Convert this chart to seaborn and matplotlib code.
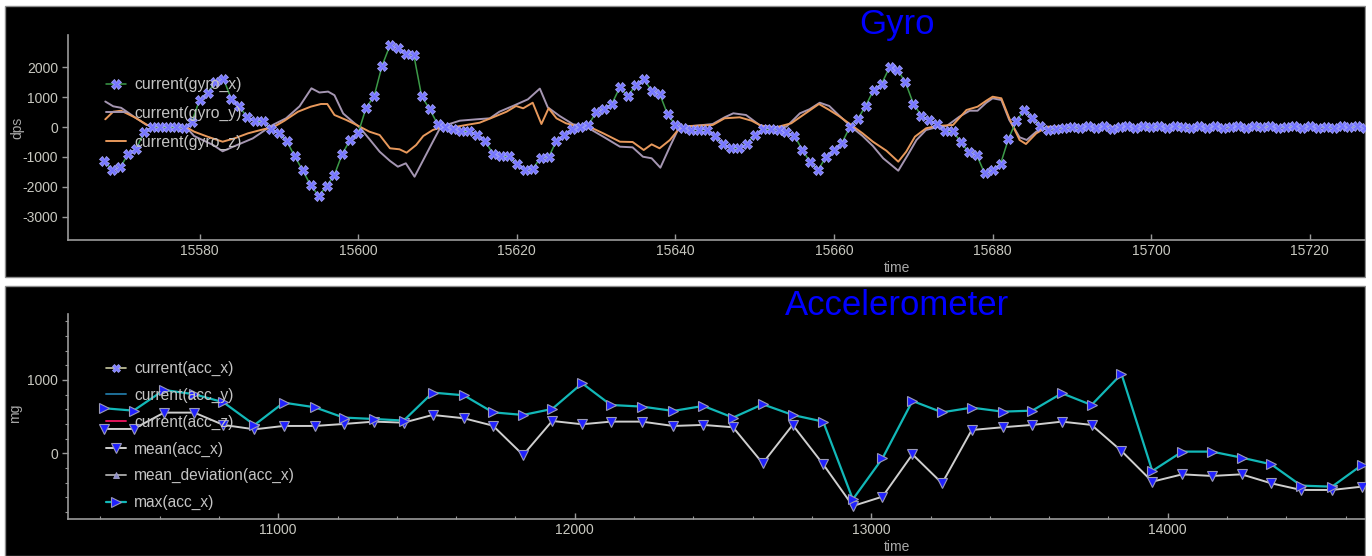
import numpy as np
import pandas as pd
import matplotlib
matplotlib.use("Agg")
import matplotlib.pyplot as plt
import seaborn as sns
from matplotlib.lines import Line2D
from matplotlib.patches import Rectangle
from matplotlib.ticker import FixedLocator

# ---------------- data ----------------
gyro_time = np.arange(15568, 15729)
gyro_x = [
    -1140, -1440, -1340, -900, -720, -170, 0, 0, -10, -10,
    -30, 160, 910, 1150, 1490, 1610, 930, 690, 320, 190,
    190, -60, -200, -480, -980, -1450, -1940, -2290, -1980, -1590,
    -890, -420, -200, 650, 1020, 2040, 2720, 2650, 2430, 2410,
    1020, 600, 100, 0, -70, -140, -140, -260, -480, -890,
    -980, -980, -1250, -1440, -1390, -1030, -1010, -460, -280, -60,
    -10, 60, 490, 610, 780, 1330, 1020, 1410, 1600, 1210,
    1110, 430, 60, -30, -90, -90, -90, -310, -570, -700,
    -700, -560, -260, -60, -70, -90, -180, -290, -760, -1180,
    -1420, -1000, -760, -530, 0, 270, 710, 1240, 1440, 1990,
    1910, 1490, 780, 380, 220, 100, -120, -140, -510, -840,
    -940, -1550, -1420, -1230, -390, 210, 560, 300, 40, -90,
    -60, -40, 10, -30, 20, -20, 30, -50, 10, 40,
    -30, 20, -10, 30, -40, 20, 10, -20, 30, -30,
    20, -40, 10, 30, -20, 20, -10, 40, -30, 10,
    20, -30, 30, -20, 10, -40, 20, -10, 30, -30,
    10,
]

gyro_y_time = [
    15568.1, 15569.1, 15570.1, 15571.8, 15573.3, 15575.0, 15578.3, 15579.3, 15581.7, 15582.9,
    15584.2, 15586.7, 15589.2, 15590.9, 15592.6, 15594.1, 15595.1, 15596.2, 15597.0, 15598.1,
    15599.3, 15600.2, 15601.4, 15602.7, 15604.0, 15605.0, 15606.0, 15607.1, 15608.2, 15609.3,
    15610.3, 15611.1, 15612.8, 15614.9, 15616.6, 15617.8, 15619.5, 15621.4, 15622.9, 15623.9,
    15625.4, 15627.1, 15628.6, 15630.9, 15633.0, 15634.6, 15635.9, 15637.0, 15638.1, 15639.3,
    15640.3, 15641.2, 15643.5, 15644.7, 15646.2, 15647.3, 15648.9, 15650.6, 15652.3, 15654.0,
    15655.7, 15656.9, 15658.2, 15659.4, 15660.7, 15662.4, 15663.6, 15664.9, 15666.2, 15668.1,
    15669.3, 15670.4, 15671.6, 15672.9, 15674.2, 15675.8, 15677.1, 15678.1, 15679.2, 15680.0,
    15681.1, 15682.1, 15683.4, 15684.3, 15685.5, 15686.8, 15700.0, 15730.0,
]
gyro_y = [
    850, 690, 640, 330, 67, 0, 0, -300, -600, -810,
    -660, -380, 67, 290, 690, 1290, 1150, 1180, 1060, 450,
    177, -20, -400, -823, -1130, -1323, -1210, -1657, -1100, -543,
    -43, 67, 210, 256, 290, 510, 700, 923, 1280, 656,
    367, 90, 30, -323, -656, -678, -990, -1043, -1356, -656,
    -100, 10, 67, 100, 323, 457, 400, 67, -43, 10,
    457, 590, 810, 700, 367, -43, -300, -633, -1043, -1457,
    -933, -433, -100, -10, 33, 343, 543, 543, 810, 957,
    900, 233, -343, -433, -155, 0, 10, 0,
]

gyro_z_time = [
    15568.1, 15569.1, 15570.1, 15571.8, 15573.4, 15575.0, 15578.3, 15579.3, 15581.0, 15582.9,
    15584.4, 15586.1, 15587.7, 15589.4, 15590.7, 15592.4, 15594.0, 15595.3, 15596.1, 15597.0,
    15598.5, 15599.8, 15601.4, 15602.7, 15604.0, 15605.2, 15606.1, 15607.3, 15608.2, 15609.4,
    15610.5, 15612.2, 15613.6, 15615.3, 15617.0, 15618.7, 15619.9, 15620.8, 15622.0, 15623.1,
    15624.0, 15625.0, 15626.2, 15627.9, 15629.2, 15630.9, 15633.0, 15634.6, 15636.0, 15637.0,
    15638.0, 15639.3, 15640.5, 15641.8, 15644.7, 15646.2, 15648.1, 15649.6, 15650.8, 15652.7,
    15654.6, 15656.1, 15658.1, 15659.4, 15660.7, 15662.4, 15663.6, 15664.9, 15666.6, 15668.1,
    15669.1, 15670.2, 15671.6, 15672.9, 15675.0, 15676.7, 15678.1, 15679.2, 15680.0, 15681.1,
    15682.1, 15683.4, 15684.2, 15685.5, 15686.9, 15700.0, 15730.0,
]
gyro_z = [
    256, 510, 543, 323, 67, 0, 0, -155, -323, -490,
    -378, -211, -100, 10, 210, 510, 677, 767, 767, 400,
    233, 67, -155, -267, -710, -743, -856, -600, -300, -100,
    -10, 0, 67, 143, 323, 510, 700, 623, 810, 100,
    623, 290, 123, 10, 0, -211, -490, -500, -767, -578,
    -710, -433, -43, 33, 67, 290, 323, 210, 43, -10,
    123, 400, 767, 567, 350, 22, -211, -490, -790, -1156,
    -823, -323, -43, 33, 67, 567, 677, 877, 1010, 957,
    290, -433, -567, -211, 10, 0, 0,
]

acc_time = [
    10414, 10512, 10615, 10717, 10815, 10920, 11018, 11123, 11221, 11323,
    11423, 11521, 11626, 11724, 11826, 11924, 12025, 12122, 12227, 12332,
    12434, 12534, 12634, 12735, 12838, 12938, 13038, 13139, 13239, 13339,
    13443, 13543, 13643, 13743, 13844, 13948, 14049, 14149, 14249, 14349,
    14450, 14554, 14655,
]
acc_max = [
    614, 582, 864, 805, 696, 387, 691, 628, 487, 468,
    446, 828, 791, 559, 523, 605, 955, 659, 637, 578,
    646, 487, 669, 523, 432, -628, -68, 714, 559, 623,
    568, 582, 819, 659, 1082, -241, 23, 23, -59, -150,
    -441, -455, -159,
]
acc_mean = [
    332, 332, 555, 555, 387, 327, 373, 373, 400, 432,
    418, 523, 478, 377, -23, 441, 396, 432, 432, 373,
    387, 355, -136, 387, -150, -719, -591, -14, -409, 318,
    355, 387, 432, 387, 32, -387, -287, -309, -287, -409,
    -500, -500, -455,
]

gyro_labels = ["current(gyro_x)", "current(gyro_y)", "current(gyro_z)"]
acc_labels = ["current(acc_x)", "current(acc_y)", "current(acc_z)",
              "mean(acc_x)", "mean_deviation(acc_x)", "max(acc_x)"]

gyro_xticks = [15580, 15600, 15620, 15640, 15660, 15680, 15700, 15720]
gyro_yticks = [-3000, -2000, -1000, 0, 1000, 2000]
acc_xticks = [11000, 12000, 13000, 14000]
acc_xminor = [10400, 10600, 10800, 11200, 11400, 11600, 11800, 12200, 12400,
              12600, 12800, 13200, 13400, 13600, 13800, 14200, 14400, 14600]
acc_yticks = [0, 1000]
acc_yminor = [-800, -600, -400, -200, 200, 400, 600, 800, 1200, 1400, 1600, 1800]

# ---------------- style ----------------
sns.set_theme(style="ticks")
plt.rcParams['font.family'] = ['Liberation Sans', 'DejaVu Sans']
plt.rcParams['axes.unicode_minus'] = False

W, H = 1372, 556
fig = plt.figure(figsize=(W / 100, H / 100), dpi=100, facecolor='white')


def fx(px):
    return px / W


def fy(py):
    return 1 - py / H


# black panels
for (y0, y1) in [(6, 277), (286, 556)]:
    fig.add_artist(Rectangle((fx(5), fy(y1)), fx(1365 - 5), (y1 - y0) / H,
                             transform=fig.transFigure, facecolor='black',
                             edgecolor='#8c8c8c', lw=1, zorder=-5))

AX_W = 1658  # plot area continues beyond the visible crop
SPINE = '#9a9a9a'
TICKLBL = '#c8c8c0'
LBL = '#a8a8a8'

ax1 = fig.add_axes([fx(68), fy(240), AX_W / W, (240 - 35) / H])
ax2 = fig.add_axes([fx(68), fy(518.7), AX_W / W, (518.7 - 314) / H])

for ax in (ax1, ax2):
    ax.set_facecolor('none')
    for s in ('top', 'right'):
        ax.spines[s].set_visible(False)
    for s in ('left', 'bottom'):
        ax.spines[s].set_color(SPINE)
        ax.spines[s].set_linewidth(1.2)
    ax.tick_params(axis='both', which='major', colors=SPINE, labelcolor=TICKLBL,
                   labelsize=10, length=4, width=1, pad=3)
    ax.tick_params(axis='x', which='both', direction='in')
    ax.tick_params(axis='y', which='both', direction='out')
    ax.tick_params(axis='both', which='minor', colors=SPINE, length=2.5, width=0.8)
    ax.grid(False)

# ---------------- Gyro ----------------
sns.lineplot(x=gyro_y_time, y=gyro_y, ax=ax1, color='#a596b2', lw=1.4,
             estimator=None, sort=False, legend=False)
sns.lineplot(x=gyro_z_time, y=gyro_z, ax=ax1, color='#e8995c', lw=1.4,
             estimator=None, sort=False, legend=False)
sns.lineplot(x=gyro_time, y=gyro_x, ax=ax1, color='#3c9a48', lw=1.1,
             marker='X', markersize=6.5, markerfacecolor='#7676ff',
             markeredgecolor='#a4a4ff', markeredgewidth=0.6,
             estimator=None, sort=False, legend=False)

ax1.set_xlim(15563.4, 15563.4 + AX_W / 7.93)
ax1.set_ylim(-3767, 3067)
ax1.xaxis.set_major_locator(FixedLocator(gyro_xticks))
ax1.yaxis.set_major_locator(FixedLocator(gyro_yticks))
ax1.set_xlabel('time', color=LBL, fontsize=10, labelpad=2)
ax1.set_ylabel('')

g_handles = [
    Line2D([], [], color='#3c9a48', lw=1.1, marker='X', ms=6.5,
           mfc='#7676ff', mec='#a4a4ff', mew=0.6),
    Line2D([], [], color='#a596b2', lw=1.4),
    Line2D([], [], color='#e8995c', lw=1.4),
]
ax1.legend(g_handles, gyro_labels, loc='upper left',
           bbox_to_anchor=(fx(106), fy(77)), bbox_transform=fig.transFigure,
           frameon=False, fontsize=11.3, labelcolor='#c4c4c4',
           handlelength=1.3, handletextpad=0.5, labelspacing=0.88,
           borderpad=0, borderaxespad=0, numpoints=1)

# ---------------- Accelerometer ----------------
sns.lineplot(x=acc_time, y=acc_mean, ax=ax2, color='#cfcfcf', lw=1.4,
             marker='v', markersize=7.5, markerfacecolor='#2020ff',
             markeredgecolor='#9a9ab8', markeredgewidth=0.8,
             estimator=None, sort=False, legend=False)
sns.lineplot(x=acc_time, y=acc_max, ax=ax2, color='#12b8b8', lw=1.6,
             marker='>', markersize=7.5, markerfacecolor='#2020ff',
             markeredgecolor='#9a9ab8', markeredgewidth=0.8,
             estimator=None, sort=False, legend=False)

ax2.set_xlim(10291, 10291 + AX_W / 0.2965)
ax2.set_ylim(-892, 1900)
ax2.xaxis.set_major_locator(FixedLocator(acc_xticks))
ax2.xaxis.set_minor_locator(FixedLocator(acc_xminor))
ax2.yaxis.set_major_locator(FixedLocator(acc_yticks))
ax2.yaxis.set_minor_locator(FixedLocator(acc_yminor))
ax2.set_xlabel('time', color=LBL, fontsize=10, labelpad=2)
ax2.set_ylabel('')

a_handles = [
    Line2D([], [], color='#c8c8a0', lw=1.2, marker='X', ms=5.5,
           mfc='#8080ff', mec='#a4a4ff', mew=0.5),
    Line2D([], [], color='#1e6e98', lw=1.4),
    Line2D([], [], color='#e0145a', lw=1.4),
    Line2D([], [], color='#cfcfcf', lw=1.4, marker='v', ms=7,
           mfc='#2020ff', mec='#9a9ab8', mew=0.8),
    Line2D([], [], color='#a0a0a0', lw=1.4, marker='^', ms=4.5,
           mfc='#8a8ac8', mec='#a8a8c8', mew=0.6),
    Line2D([], [], color='#12b8b8', lw=1.6, marker='>', ms=7,
           mfc='#2020ff', mec='#9a9ab8', mew=0.8),
]
ax2.legend(a_handles, acc_labels, loc='upper left',
           bbox_to_anchor=(fx(106), fy(361)), bbox_transform=fig.transFigure,
           frameon=False, fontsize=11.2, labelcolor='#c4c4c4',
           handlelength=1.3, handletextpad=0.5, labelspacing=0.75,
           borderpad=0, borderaxespad=0, numpoints=1)

# titles (centred on the full, uncropped plot width)
fig.text(fx(897), fy(34), 'Gyro', ha='center', va='baseline',
         color='#0000ff', fontsize=25)
fig.text(fx(897), fy(315), 'Accelerometer', ha='center', va='baseline',
         color='#0000ff', fontsize=25)

# axis labels
fig.text(fx(17), fy(128), 'dps', rotation=90, ha='center', va='center',
         color=LBL, fontsize=10)
fig.text(fx(15), fy(413), 'mg', rotation=90, ha='center', va='center',
         color=LBL, fontsize=10)

# white margin at the right edge (crop of the original widget)
fig.add_artist(Rectangle((fx(1365.5), 0), 1, 1, transform=fig.transFigure,
                         facecolor='white', edgecolor='none', zorder=20))

fig.savefig('out.png', dpi=100, facecolor='white')
